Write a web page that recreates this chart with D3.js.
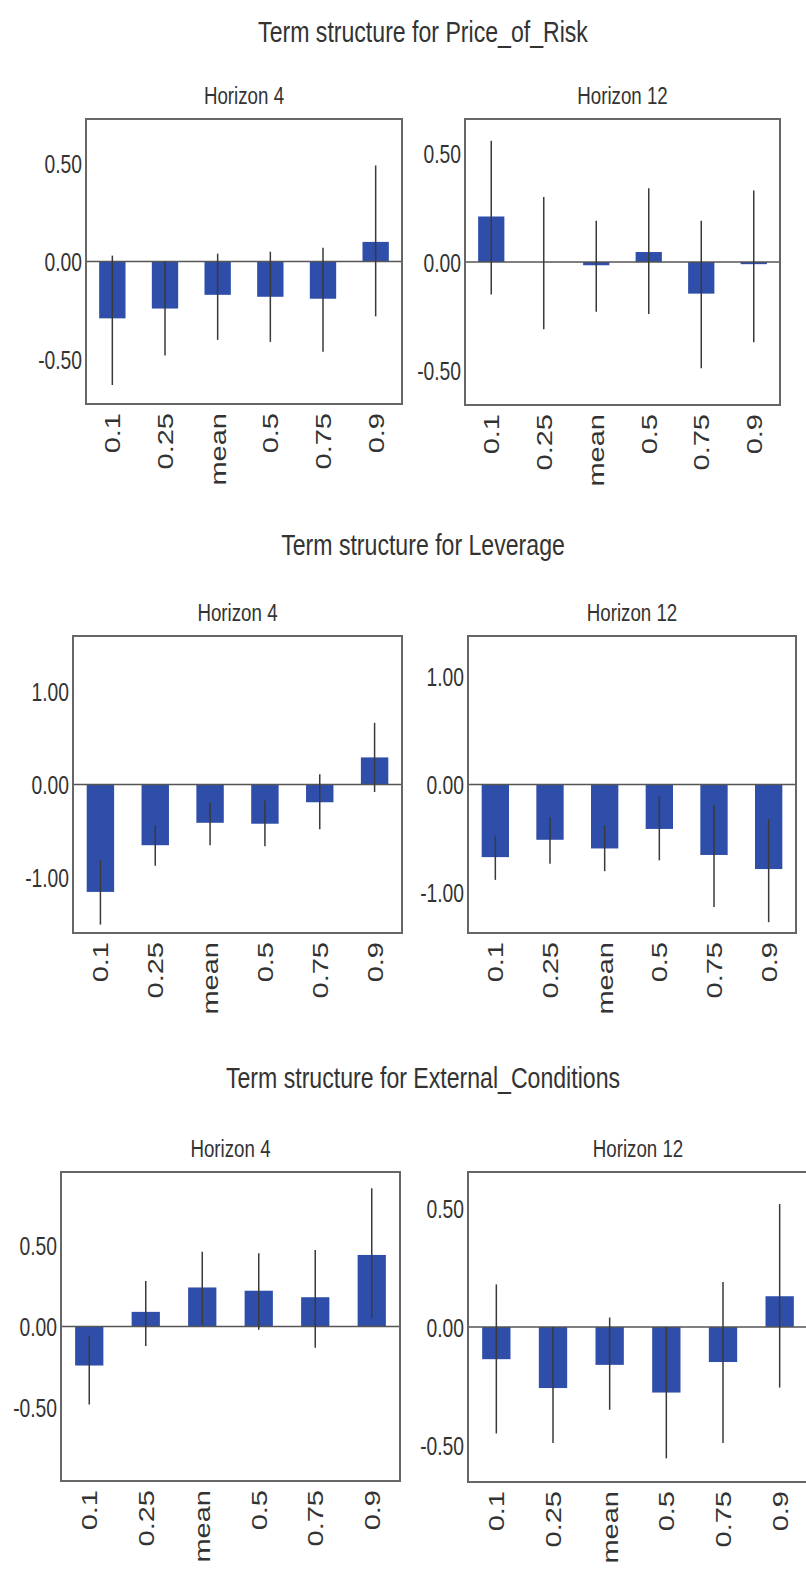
<!DOCTYPE html>
<html>
<head>
<meta charset="utf-8">
<script src="https://cdn.jsdelivr.net/npm/d3@7"></script>
<style>
  body { margin: 0; background: #fff; }
  svg { display: block; }
  text { font-family: "Liberation Sans", Arial, Helvetica, sans-serif; fill: #333; }
</style>
</head>
<body>
<svg id="chart" width="806" height="1569"></svg>
<script>
// ---- data ---------------------------------------------------------------
const categories = ["0.1", "0.25", "mean", "0.5", "0.75", "0.9"];
const variables = ["Price_of_Risk", "Leverage", "External_Conditions"];
const horizons = ["Horizon 4", "Horizon 12"];

// Price_of_Risk
const priceH4    = [-0.29, -0.24, -0.17, -0.18, -0.19, 0.10];
const priceH4Lo  = [-0.63, -0.48, -0.40, -0.41, -0.46, -0.28];
const priceH4Hi  = [ 0.03,  0.00,  0.04,  0.05,  0.07, 0.49];
const priceH12   = [ 0.21,  0.00, -0.015, 0.046, -0.146, -0.01];
const priceH12Lo = [-0.15, -0.31, -0.23, -0.24, -0.49, -0.37];
const priceH12Hi = [ 0.56,  0.30,  0.19,  0.34,  0.19,  0.33];

// Leverage
const levH4    = [-1.15, -0.65, -0.41, -0.42, -0.19, 0.29];
const levH4Lo  = [-1.50, -0.87, -0.65, -0.66, -0.48, -0.08];
const levH4Hi  = [-0.81, -0.44, -0.19, -0.17,  0.11,  0.66];
const levH12   = [-0.67, -0.51, -0.59, -0.41, -0.65, -0.78];
const levH12Lo = [-0.88, -0.73, -0.80, -0.70, -1.13, -1.27];
const levH12Hi = [-0.47, -0.30, -0.38, -0.11, -0.19, -0.32];

// External_Conditions
const extH4    = [-0.24,  0.09, 0.24,  0.22,  0.18, 0.44];
const extH4Lo  = [-0.48, -0.12, 0.01, -0.02, -0.13, 0.05];
const extH4Hi  = [-0.06,  0.28, 0.46,  0.45,  0.47, 0.85];
const extH12   = [-0.136, -0.258, -0.16, -0.277, -0.148, 0.13];
const extH12Lo = [-0.45, -0.49, -0.35, -0.555, -0.49, -0.256];
const extH12Hi = [ 0.18,  0.00,  0.04,  0.00,  0.19,  0.52];

// y-axis tick values
const ticksHalf = [-0.5, 0, 0.5];
const ticksOne  = [-1, 0, 1];

// ---- layout ---------------------------------------------------------------
const SQUEEZE = 0.77;   // horizontal condensing of all lettering
const titleBaselines = [42, 555, 1088];
const panels = [
  { row: 0, col: 0, mid: priceH4,  lo: priceH4Lo,  hi: priceH4Hi,  ticks: ticksHalf, lim: 0.727, x0: 86,  x1: 402, y0: 119,  y1: 404 },
  { row: 0, col: 1, mid: priceH12, lo: priceH12Lo, hi: priceH12Hi, ticks: ticksHalf, lim: 0.660, x0: 465, x1: 780, y0: 119,  y1: 405 },
  { row: 1, col: 0, mid: levH4,    lo: levH4Lo,    hi: levH4Hi,    ticks: ticksOne,  lim: 1.590, x0: 73,  x1: 402, y0: 636,  y1: 933 },
  { row: 1, col: 1, mid: levH12,   lo: levH12Lo,   hi: levH12Hi,   ticks: ticksOne,  lim: 1.370, x0: 468, x1: 796, y0: 636,  y1: 933 },
  { row: 2, col: 0, mid: extH4,    lo: extH4Lo,    hi: extH4Hi,    ticks: ticksHalf, lim: 0.950, x0: 61,  x1: 400, y0: 1172, y1: 1481 },
  { row: 2, col: 1, mid: extH12,   lo: extH12Lo,   hi: extH12Hi,   ticks: ticksHalf, lim: 0.655, x0: 468, x1: 808, y0: 1172, y1: 1482 }
];

const BAR = "#2f4ea9";
const fmt = d3.formatLocale({ decimal: ".", thousands: ",", grouping: [3], currency: ["", ""], minus: "-" }).format(".2f");

const svg = d3.select("#chart");

// row titles
variables.forEach((v, i) => {
  svg.append("text")
    .attr("transform", `translate(423,${titleBaselines[i]}) scale(${SQUEEZE},1)`)
    .attr("text-anchor", "middle")
    .style("font-size", "30px")
    .text(`Term structure for ${v}`);
});

panels.forEach(p => {
  const g = svg.append("g");
  const x = d3.scaleBand().domain(categories).range([p.x0, p.x1])
    .paddingInner(0.5).paddingOuter(0.25);
  const y = d3.scaleLinear().domain([-p.lim, p.lim]).range([p.y1, p.y0]);
  const rows = categories.map((c, i) => ({ c, v: p.mid[i], lo: p.lo[i], hi: p.hi[i] }));

  // horizon label
  g.append("text")
    .attr("transform", `translate(${(p.x0 + p.x1) / 2},${p.y0 - 15}) scale(${SQUEEZE + 0.01},1)`)
    .attr("text-anchor", "middle")
    .style("font-size", "24px")
    .text(horizons[p.col]);

  // bars
  g.selectAll("rect.bar").data(rows).join("rect")
    .attr("class", "bar")
    .attr("x", d => x(d.c))
    .attr("width", x.bandwidth())
    .attr("y", d => y(Math.max(0, d.v)))
    .attr("height", d => Math.abs(y(d.v) - y(0)))
    .attr("fill", BAR);

  // zero line
  g.append("line")
    .attr("x1", p.x0).attr("x2", p.x1)
    .attr("y1", y(0)).attr("y2", y(0))
    .attr("stroke", "#555").attr("stroke-width", 1.6);

  // confidence intervals
  g.selectAll("line.ci").data(rows).join("line")
    .attr("class", "ci")
    .attr("x1", d => x(d.c) + x.bandwidth() / 2)
    .attr("x2", d => x(d.c) + x.bandwidth() / 2)
    .attr("y1", d => y(d.hi))
    .attr("y2", d => y(d.lo))
    .attr("stroke", "#3a3a3a").attr("stroke-width", 1.5);

  // frame
  g.append("rect")
    .attr("x", p.x0).attr("y", p.y0)
    .attr("width", p.x1 - p.x0).attr("height", p.y1 - p.y0)
    .attr("fill", "none").attr("stroke", "#666").attr("stroke-width", 2);

  // y axis
  const ya = g.append("g").attr("transform", `translate(${p.x0 - 4},0)`)
    .call(d3.axisLeft(y).tickValues(p.ticks).tickSize(0).tickPadding(0).tickFormat(fmt));
  ya.select(".domain").remove();
  ya.selectAll("text")
    .attr("fill", "#333")
    .attr("dy", "0.36em")
    .attr("transform", `scale(${SQUEEZE},1)`)
    .style("font-size", "25px")
    .style("font-family", "\"Liberation Sans\", Arial, sans-serif");

  // category labels, rotated
  g.selectAll("text.cat").data(categories).join("text")
    .attr("class", "cat")
    .attr("transform", c => `translate(${x(c) + x.bandwidth() / 2},${p.y1 + 9}) scale(${SQUEEZE},1) rotate(-90)`)
    .attr("text-anchor", "end")
    .attr("dy", "0.36em")
    .style("font-size", "29px")
    .text(c => c);
});
</script>
</body>
</html>
